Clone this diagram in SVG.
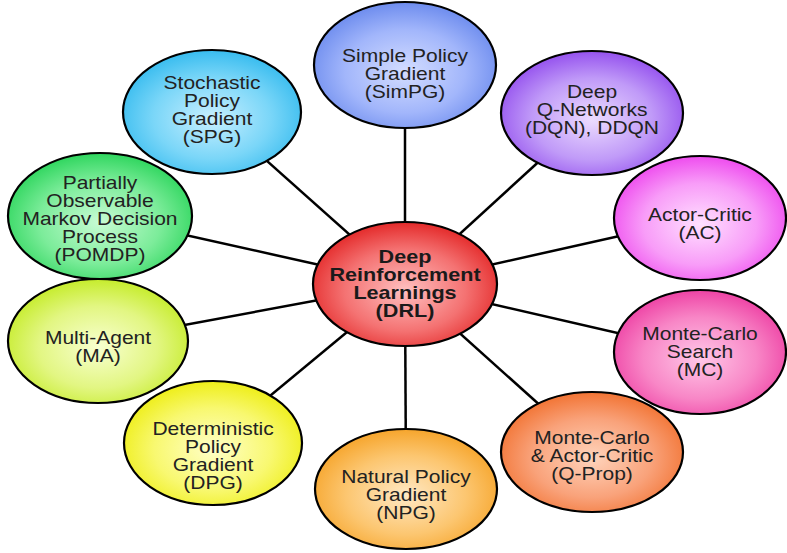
<svg xmlns="http://www.w3.org/2000/svg" width="787" height="553" viewBox="0 0 787 553">
<defs>
<radialGradient id="gBlue" cx="50%" cy="55%" r="55%"><stop offset="0" stop-color="#d4ddff"/><stop offset="0.6" stop-color="#a2b6fb"/><stop offset="1" stop-color="#6d8cee"/></radialGradient>
<radialGradient id="gCyan" cx="50%" cy="55%" r="55%"><stop offset="0" stop-color="#c8efff"/><stop offset="0.6" stop-color="#7ad6f8"/><stop offset="1" stop-color="#38bcef"/></radialGradient>
<radialGradient id="gPurple" cx="50%" cy="55%" r="55%"><stop offset="0" stop-color="#ecdcff"/><stop offset="0.6" stop-color="#c09af8"/><stop offset="1" stop-color="#9552ee"/></radialGradient>
<radialGradient id="gGreen" cx="50%" cy="55%" r="55%"><stop offset="0" stop-color="#c8fbd4"/><stop offset="0.6" stop-color="#7cec9a"/><stop offset="1" stop-color="#2fd65e"/></radialGradient>
<radialGradient id="gMagenta" cx="50%" cy="55%" r="55%"><stop offset="0" stop-color="#ffe0ff"/><stop offset="0.6" stop-color="#f89cf8"/><stop offset="1" stop-color="#ee4cee"/></radialGradient>
<radialGradient id="gLime" cx="50%" cy="55%" r="55%"><stop offset="0" stop-color="#f8ffd0"/><stop offset="0.6" stop-color="#e2f682"/><stop offset="1" stop-color="#c6ec2c"/></radialGradient>
<radialGradient id="gPink" cx="50%" cy="55%" r="55%"><stop offset="0" stop-color="#ffc8e8"/><stop offset="0.6" stop-color="#f886c6"/><stop offset="1" stop-color="#ee43a5"/></radialGradient>
<radialGradient id="gYellow" cx="50%" cy="55%" r="55%"><stop offset="0" stop-color="#ffffc8"/><stop offset="0.6" stop-color="#f8f870"/><stop offset="1" stop-color="#eeee18"/></radialGradient>
<radialGradient id="gOrange" cx="50%" cy="55%" r="55%"><stop offset="0" stop-color="#ffe8c4"/><stop offset="0.6" stop-color="#fcc670"/><stop offset="1" stop-color="#f6a52c"/></radialGradient>
<radialGradient id="gCoral" cx="50%" cy="55%" r="55%"><stop offset="0" stop-color="#ffd4bc"/><stop offset="0.6" stop-color="#f9a27a"/><stop offset="1" stop-color="#f27434"/></radialGradient>
<radialGradient id="gRed" cx="50%" cy="55%" r="55%"><stop offset="0" stop-color="#ffc0c0"/><stop offset="0.6" stop-color="#f47272"/><stop offset="1" stop-color="#e42a2a"/></radialGradient>
</defs>
<style>
.n ellipse{stroke:#000;stroke-width:2.2}
.n text{font-family:"Liberation Sans",Arial,sans-serif;font-size:17.5px;fill:#222;text-anchor:middle}
.c text{font-weight:bold;font-size:18px;fill:#1a1a1a}
.links line{stroke:#000;stroke-width:2.5}
</style>
<rect width="787" height="553" fill="#fff"/>
<g id="connectors" class="links">
<line x1="405" y1="284" x2="405" y2="65"/>
<line x1="405" y1="284" x2="212" y2="112"/>
<line x1="405" y1="284" x2="592" y2="113"/>
<line x1="405" y1="284" x2="100" y2="216"/>
<line x1="405" y1="284" x2="700" y2="218"/>
<line x1="405" y1="284" x2="98" y2="341"/>
<line x1="405" y1="284" x2="700" y2="352"/>
<line x1="405" y1="284" x2="213" y2="443"/>
<line x1="405" y1="284" x2="406" y2="489"/>
<line x1="405" y1="284" x2="592" y2="452"/>
</g>
<g id="simpg" class="n"><ellipse cx="405" cy="65" rx="91" ry="63" fill="url(#gBlue)"/>
<text transform="translate(405,74) scale(1.2,1)"><tspan x="0" y="-12">Simple Policy</tspan><tspan x="0" y="6">Gradient</tspan><tspan x="0" y="24">(SimPG)</tspan></text></g>
<g id="spg" class="n"><ellipse cx="212" cy="112" rx="89" ry="62" fill="url(#gCyan)"/>
<text transform="translate(212,110) scale(1.2,1)"><tspan x="0" y="-21">Stochastic</tspan><tspan x="0" y="-3">Policy</tspan><tspan x="0" y="15">Gradient</tspan><tspan x="0" y="33">(SPG)</tspan></text></g>
<g id="dqn" class="n"><ellipse cx="592" cy="113" rx="91" ry="62" fill="url(#gPurple)"/>
<text transform="translate(592,110) scale(1.2,1)"><tspan x="0" y="-12">Deep</tspan><tspan x="0" y="6">Q-Networks</tspan><tspan x="0" y="24">(DQN), DDQN</tspan></text></g>
<g id="pomdp" class="n"><ellipse cx="100" cy="216" rx="92" ry="63" fill="url(#gGreen)"/>
<text transform="translate(100,219) scale(1.2,1)"><tspan x="0" y="-30">Partially</tspan><tspan x="0" y="-12">Observable</tspan><tspan x="0" y="6">Markov Decision</tspan><tspan x="0" y="24">Process</tspan><tspan x="0" y="42">(POMDP)</tspan></text></g>
<g id="ac" class="n"><ellipse cx="700" cy="218" rx="86" ry="62" fill="url(#gMagenta)"/>
<text transform="translate(700,224) scale(1.2,1)"><tspan x="0" y="-3">Actor-Critic</tspan><tspan x="0" y="15">(AC)</tspan></text></g>
<g id="ma" class="n"><ellipse cx="98" cy="341" rx="90" ry="62" fill="url(#gLime)"/>
<text transform="translate(98,347) scale(1.2,1)"><tspan x="0" y="-3">Multi-Agent</tspan><tspan x="0" y="15">(MA)</tspan></text></g>
<g id="mc" class="n"><ellipse cx="700" cy="352" rx="86" ry="62" fill="url(#gPink)"/>
<text transform="translate(700,352) scale(1.2,1)"><tspan x="0" y="-12">Monte-Carlo</tspan><tspan x="0" y="6">Search</tspan><tspan x="0" y="24">(MC)</tspan></text></g>
<g id="dpg" class="n"><ellipse cx="213" cy="443" rx="89" ry="62" fill="url(#gYellow)"/>
<text transform="translate(213,456) scale(1.2,1)"><tspan x="0" y="-21">Deterministic</tspan><tspan x="0" y="-3">Policy</tspan><tspan x="0" y="15">Gradient</tspan><tspan x="0" y="33">(DPG)</tspan></text></g>
<g id="npg" class="n"><ellipse cx="406" cy="489" rx="91" ry="60" fill="url(#gOrange)"/>
<text transform="translate(406,495) scale(1.2,1)"><tspan x="0" y="-12">Natural Policy</tspan><tspan x="0" y="6">Gradient</tspan><tspan x="0" y="24">(NPG)</tspan></text></g>
<g id="qprop" class="n"><ellipse cx="592" cy="452" rx="91" ry="60" fill="url(#gCoral)"/>
<text transform="translate(592,456) scale(1.2,1)"><tspan x="0" y="-12">Monte-Carlo</tspan><tspan x="0" y="6">&amp; Actor-Critic</tspan><tspan x="0" y="24">(Q-Prop)</tspan></text></g>
<g id="drl" class="n c"><ellipse cx="405" cy="284" rx="92" ry="62" fill="url(#gRed)"/>
<text transform="translate(405,285) scale(1.2,1)"><tspan x="0" y="-22">Deep</tspan><tspan x="0" y="-4">Reinforcement</tspan><tspan x="0" y="14">Learnings</tspan><tspan x="0" y="32">(DRL)</tspan></text></g>
</svg>
